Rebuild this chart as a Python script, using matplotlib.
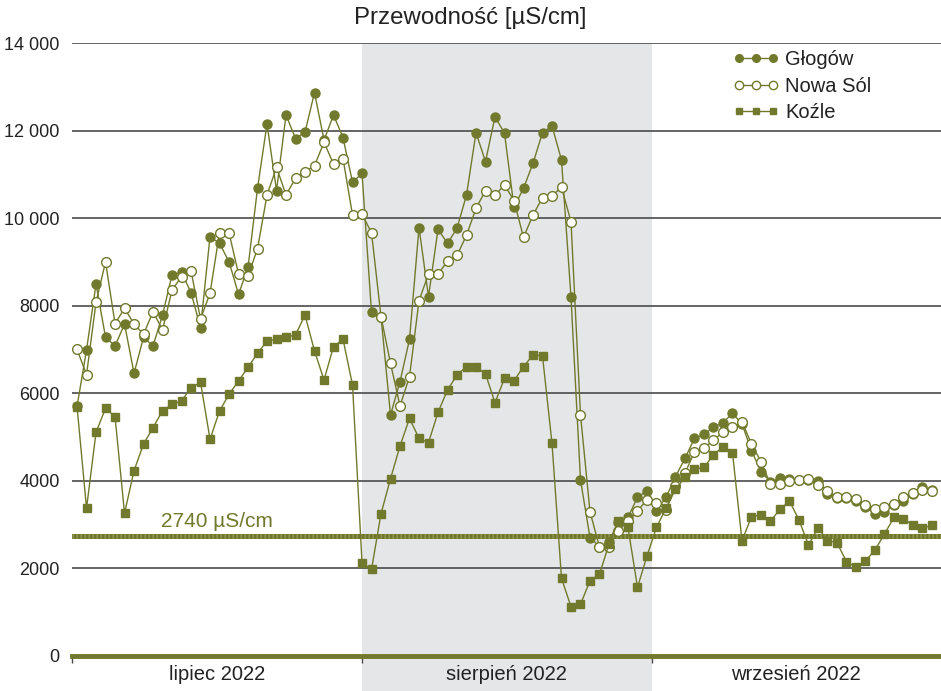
import numpy as np
import matplotlib
matplotlib.use("Agg")
import matplotlib.pyplot as plt
from matplotlib.patches import Rectangle
from matplotlib.lines import Line2D
import matplotlib.transforms as mtransforms

plt.rcParams['font.family'] = ['Liberation Sans', 'DejaVu Sans']

title = "Przewodność [µS/cm]"
series_names = ["Głogów", "Nowa Sól", "Koźle"]
month_labels = ["lipiec 2022", "sierpień 2022", "wrzesień 2022"]
month_bounds = [-0.53, 30.0, 60.5, 90.95]
threshold = 2740
threshold_label = "2740 µS/cm"
yticks = [0, 2000, 4000, 6000, 8000, 10000, 12000, 14000]
ytick_labels = ["0", "2000", "4000", "6000", "8000", "10 000", "12 000", "14 000"]

glogow = [5700, 6990, 8497, 7278, 7080, 7583, 6456, 7278, 7080, 7788,
          8702, 8763, 8298, 7499, 9577, 9425, 9006, 8261, 8877, 10682,
          12151, 10628, 12357, 11815, 11968, 12866, 11780, 12357, 11838, 10819,
          11024, 7849, 7750, 5504, 6266, 7233, 9783, 8207, 9745, 9425,
          9768, 10529, 11953, 11291, 12318, 11938, 10248, 10682, 11253, 11953,
          12105, 11329, 8192, 4020, 2703, 2500, 2611, 3068, 3167, 3624,
          3776, 3319, 3624, 4096, 4515, 4972, 5063, 5223, 5329, 5543,
          5300, 4690, 4210, 3982, 4058, 4035, 4020, 4020, 4000, 3700,
          3600, 3600, 3550, 3400, 3243, 3300, 3450, 3550, 3700, 3850,
          3800]

nowa_sol = [7004, 6426, 8078, 8999, 7591, 7941, 7583, 7347, 7865, 7446,
            8359, 8664, 8793, 7697, 8283, 9669, 9669, 8725, 8679, 9303,
            10529, 11161, 10529, 10910, 11054, 11199, 11732, 11237, 11359, 10072,
            10088, 9669, 7750, 6685, 5710, 6380, 8116, 8725, 8725, 9014,
            9151, 9608, 10225, 10628, 10522, 10758, 10400, 9562, 10072, 10468,
            10514, 10704, 9920, 5504, 3296, 2482, 2482, 2863, 3083, 3319,
            3563, 3502, 3335, 3890, 4172, 4667, 4743, 4933, 5109, 5223,
            5352, 4842, 4438, 3921, 3921, 4004, 4020, 4035, 3906, 3776,
            3624, 3624, 3578, 3449, 3357, 3395, 3472, 3624, 3731, 3791,
            3769]

kozle = [5695, 3373, 5109, 5657, 5466, 3259, 4233, 4842, 5215, 5603,
         5748, 5824, 6129, 6251, 4949, 5596, 5976, 6281, 6593, 6913,
         7195, 7233, 7278, 7332, 7788, 6966, 6304, 7065, 7233, 6190,
         2132, 1979, 3250, 4050, 4796, 5428, 4971, 4872, 5565, 6075,
         6418, 6608, 6608, 6441, 5786, 6342, 6289, 6608, 6875, 6852,
         4857, 1774, 1127, 1180, 1720, 1865, 2558, 3083, 2939, 1568,
         2284, 2939, 3373, 3806, 4081, 4264, 4310, 4591, 4781, 4644,
         2634, 3182, 3220, 3083, 3350, 3540, 3106, 2535, 2931, 2634,
         2588, 2154, 2025, 2170, 2421, 2786, 3167, 3129, 2992, 2916,
         2992]

olive = "#717a2c"
grid_c = "#4a4a4a"
text_c = "#222222"

W, H = 941, 691
fig = plt.figure(figsize=(W / 100, H / 100), dpi=100)
ax = fig.add_axes([72 / W, (H - 656) / H, 869 / W, 613 / H])
ax.set_xlim(month_bounds[0], month_bounds[-1])
ax.set_ylim(0, 14000)

for s in ax.spines.values():
    s.set_visible(False)

# August shading extends to bottom of figure
trans = mtransforms.blended_transform_factory(ax.transData, ax.transAxes)
ax.add_patch(Rectangle((month_bounds[1], -35 / 613), month_bounds[2] - month_bounds[1],
                       1 + 35 / 613, transform=trans, facecolor="#e5e6e8",
                       edgecolor="none", clip_on=False, zorder=0))

for yv in yticks[1:]:
    ax.axhline(yv, color=grid_c, lw=1.2, zorder=1)
ax.axhline(0, color=olive, lw=3.5, zorder=5, clip_on=False)

# threshold line
ax.axhline(threshold, color="#6f7829", lw=3.6, zorder=2)
ax.axhline(threshold, color="#959b58", lw=3.6, ls=(0, (0.25, 0.55)), zorder=2)
ax.text((month_bounds[0] + month_bounds[1]) / 2, threshold + 120, threshold_label,
        color=olive, fontsize=15, ha="center", va="bottom")

x = np.arange(len(glogow))
ax.plot(x, glogow, color=olive, lw=1.0, marker="o", ms=6.5, mfc=olive, mec=olive,
        zorder=6, clip_on=False, label=series_names[0])
ax.plot(x, nowa_sol, color=olive, lw=1.0, marker="o", ms=7, mfc="white", mec=olive,
        mew=1.0, zorder=7, clip_on=False, label=series_names[1])
ax.plot(x, kozle, color=olive, lw=1.0, marker="s", ms=5.5, mfc=olive, mec=olive,
        zorder=8, clip_on=False, label=series_names[2])

ax.set_yticks(yticks)
ax.set_yticklabels(ytick_labels)
ax.tick_params(axis="y", length=0, pad=9, labelsize=13, colors=text_c)
ax.set_xticks(month_bounds[:-1])
ax.set_xticklabels([])
ax.tick_params(axis="x", length=5, width=1, color=grid_c, direction="out")

for i, lab in enumerate(month_labels):
    cx = (month_bounds[i] + month_bounds[i + 1]) / 2
    ax.text(cx, -19 / 613, lab, transform=trans, ha="center", va="center",
            fontsize=14.5, color=text_c)

fig.text(470 / W, 1 - 18 / H, title, ha="center", va="center", fontsize=17.3,
         color=text_c)

handles = [
    Line2D([], [], color=olive, lw=1.0, marker="o", ms=5.5, mfc=olive, mec=olive),
    Line2D([], [], color=olive, lw=1.0, marker="o", ms=6, mfc="white", mec=olive),
    Line2D([], [], color=olive, lw=1.0, marker="s", ms=5, mfc=olive, mec=olive),
]
leg = fig.legend(handles, series_names, loc="upper left",
                 bbox_to_anchor=(733 / W, 1 - 50 / H),
                 frameon=False, numpoints=3, handlelength=2.3, handletextpad=0.3,
                 labelspacing=0.38, fontsize=14.5, borderaxespad=0, borderpad=0)
for t in leg.get_texts():
    t.set_color(text_c)

fig.savefig("out.png", dpi=100)
